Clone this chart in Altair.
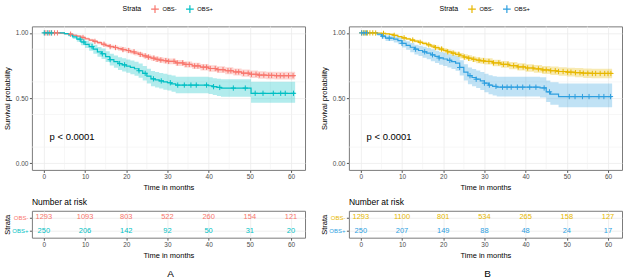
import altair as alt
import pandas as pd

FONT = "Liberation Sans"
STRATA = ["OBS-", "OBS+"]
COLORS_A = ["#F8766D", "#00BFC4"]
COLORS_B = ["#E7B800", "#2E9FDF"]

# ---------------- Panel A ----------------
A_neg_time = [0, 4, 5, 6, 7, 8, 9, 10, 11, 12, 13, 14, 15, 16, 17, 18, 19, 20, 21, 22, 23, 24, 25, 26, 27, 28, 29, 30,
              32, 34, 36, 38, 40, 42, 44, 46, 48, 50, 52, 54, 56, 61]
A_neg_surv = [1.0, 0.998, 0.995, 0.990, 0.982, 0.975, 0.965, 0.955, 0.945, 0.935, 0.925, 0.913, 0.903, 0.895, 0.888,
              0.880, 0.872, 0.865, 0.855, 0.845, 0.835, 0.824, 0.815, 0.806, 0.798, 0.792, 0.787, 0.782,
              0.770, 0.758, 0.747, 0.737, 0.727, 0.718, 0.710, 0.701, 0.691, 0.683, 0.677, 0.674, 0.672, 0.671]
A_neg_lower = [1.0, 0.996, 0.991, 0.985, 0.976, 0.968, 0.957, 0.946, 0.935, 0.924, 0.913, 0.900, 0.889, 0.880, 0.872,
               0.864, 0.855, 0.848, 0.837, 0.827, 0.816, 0.805, 0.795, 0.786, 0.777, 0.771, 0.765, 0.760,
               0.747, 0.735, 0.723, 0.712, 0.702, 0.692, 0.684, 0.674, 0.663, 0.655, 0.648, 0.645, 0.642, 0.641]
A_neg_upper = [1.0, 1.0, 0.999, 0.995, 0.988, 0.982, 0.973, 0.964, 0.955, 0.946, 0.937, 0.926, 0.917, 0.910, 0.904,
               0.896, 0.889, 0.882, 0.873, 0.863, 0.854, 0.843, 0.835, 0.826, 0.819, 0.813, 0.809, 0.804,
               0.793, 0.781, 0.771, 0.762, 0.752, 0.744, 0.736, 0.728, 0.719, 0.711, 0.706, 0.703, 0.702, 0.701]
A_neg_cens = [0.3, 0.8, 1.4, 1.9, 2.6, 3.3, 6.5, 9.5, 12.4, 14.6, 16.1, 17.4, 19.2, 20.6, 21.9, 23.4, 24.6, 25.4, 26.7,
              27.5, 28.4, 29.6, 30.3, 31.6, 32.4, 33.7, 34.5, 35.3, 36.6, 37.4, 38.7, 39.5, 40.4, 41.6, 42.3, 43.5,
              44.7, 45.4, 46.6, 47.3, 48.5, 49.6, 50.4, 51.5, 52.3, 53.4, 54.6, 55.3, 56.5, 57.4, 58.3, 59.4, 60.5]

A_pos_time = [0, 5, 6, 7, 8, 9, 10, 11, 12, 13, 14, 15, 16, 17, 18, 19, 20, 21, 22, 23, 24, 25, 26, 27, 28, 29, 30,
              31, 32, 40, 41, 42, 43, 50.3, 61]
A_pos_surv = [1.0, 0.995, 0.985, 0.970, 0.952, 0.930, 0.912, 0.895, 0.875, 0.855, 0.840, 0.818, 0.795, 0.780, 0.765,
              0.755, 0.745, 0.735, 0.725, 0.710, 0.690, 0.668, 0.648, 0.640, 0.632, 0.625, 0.618,
              0.610, 0.600, 0.595, 0.588, 0.582, 0.577, 0.537, 0.537]
A_pos_lower = [1.0, 0.985, 0.972, 0.953, 0.932, 0.905, 0.884, 0.864, 0.840, 0.818, 0.800, 0.776, 0.750, 0.733, 0.716,
               0.705, 0.694, 0.683, 0.672, 0.656, 0.635, 0.612, 0.591, 0.582, 0.573, 0.565, 0.558,
               0.549, 0.538, 0.532, 0.524, 0.517, 0.511, 0.465, 0.465]
A_pos_upper = [1.0, 1.0, 0.998, 0.987, 0.972, 0.955, 0.940, 0.926, 0.910, 0.892, 0.880, 0.860, 0.840, 0.827, 0.814,
               0.806, 0.797, 0.788, 0.778, 0.765, 0.746, 0.726, 0.707, 0.700, 0.692, 0.686, 0.680,
               0.673, 0.664, 0.660, 0.653, 0.648, 0.644, 0.625, 0.625]
A_pos_cens = [0.1, 1.0, 1.8, 8.8, 9.7, 11.7, 14.2, 16.1, 18.4, 19.6, 23.1, 24.6, 26.6, 28.5, 30.7, 32.5, 34.1, 35.7,
              37.0, 39.5, 41.2, 42.7, 46.0, 48.9, 51.3, 53.2, 55.7, 57.5, 58.6, 60.6]

A_risk_neg = [1293, 1093, 803, 522, 260, 154, 121]
A_risk_pos = [250, 206, 142, 92, 50, 31, 20]

# ---------------- Panel B ----------------
B_neg_time = [0, 3, 5, 6, 7, 8, 9, 10, 11, 12, 13, 14, 15, 16, 17, 18, 19, 20, 21, 22, 23, 24, 25, 26, 27, 28, 29, 30,
              32, 34, 36, 38, 40, 42, 44, 46, 48, 50, 52, 54, 56, 61]
B_neg_surv = [1.0, 0.999, 0.996, 0.993, 0.988, 0.981, 0.972, 0.962, 0.954, 0.945, 0.937, 0.928, 0.919, 0.909, 0.898,
              0.887, 0.876, 0.866, 0.855, 0.845, 0.835, 0.825, 0.815, 0.806, 0.798, 0.791, 0.786, 0.781,
              0.770, 0.759, 0.749, 0.739, 0.731, 0.724, 0.716, 0.710, 0.704, 0.699, 0.695, 0.691, 0.689, 0.688]
B_neg_lower = [1.0, 0.997, 0.993, 0.989, 0.983, 0.975, 0.965, 0.954, 0.945, 0.935, 0.926, 0.916, 0.906, 0.895, 0.883,
               0.871, 0.859, 0.849, 0.837, 0.826, 0.815, 0.804, 0.794, 0.784, 0.776, 0.768, 0.763, 0.757,
               0.745, 0.733, 0.722, 0.711, 0.702, 0.694, 0.685, 0.678, 0.671, 0.665, 0.660, 0.655, 0.653, 0.652]
B_neg_upper = [1.0, 1.0, 0.999, 0.997, 0.993, 0.987, 0.979, 0.970, 0.963, 0.955, 0.948, 0.940, 0.932, 0.923, 0.913,
               0.903, 0.893, 0.883, 0.873, 0.864, 0.855, 0.846, 0.836, 0.828, 0.820, 0.814, 0.809, 0.805,
               0.795, 0.785, 0.776, 0.767, 0.760, 0.754, 0.747, 0.742, 0.737, 0.733, 0.730, 0.727, 0.725, 0.724]
B_neg_cens = [0.2, 0.6, 1.1, 1.6, 2.2, 2.9, 3.6, 5.5, 8.1, 10.5, 12.6, 14.4, 16.5, 18.1, 19.6, 21.1, 22.4, 23.8, 25.1,
              26.2, 27.4, 28.7, 29.8, 31.1, 32.2, 33.5, 34.6, 35.7, 37.1, 38.2, 39.4, 40.5, 41.8, 43.1, 44.2, 45.0,
              46.1, 47.2, 48.0, 49.1, 50.2, 51.0, 52.1, 53.2, 54.0, 55.1, 56.2, 57.0, 58.1, 59.2, 60.0, 60.7]

B_pos_time = [0, 4, 5, 6, 8, 9, 10, 11, 12, 13, 14, 15, 16, 17, 18, 19, 20, 21, 22, 23, 24, 25, 26, 27, 28, 29, 30,
              31, 32, 33, 43.5, 45, 46, 48, 61]
B_pos_surv = [1.0, 0.990, 0.975, 0.960, 0.952, 0.940, 0.920, 0.905, 0.890, 0.875, 0.865, 0.855, 0.845, 0.832, 0.820,
              0.808, 0.800, 0.790, 0.780, 0.768, 0.735, 0.700, 0.672, 0.658, 0.645, 0.632, 0.615,
              0.600, 0.590, 0.584, 0.578, 0.548, 0.530, 0.512, 0.512]
B_pos_lower = [1.0, 0.978, 0.957, 0.937, 0.926, 0.912, 0.888, 0.870, 0.852, 0.834, 0.822, 0.810, 0.798, 0.783, 0.769,
               0.755, 0.746, 0.735, 0.723, 0.709, 0.673, 0.636, 0.606, 0.591, 0.577, 0.563, 0.545,
               0.530, 0.520, 0.512, 0.505, 0.470, 0.450, 0.430, 0.430]
B_pos_upper = [1.0, 1.0, 0.990, 0.980, 0.975, 0.964, 0.948, 0.935, 0.923, 0.910, 0.902, 0.893, 0.885, 0.874, 0.864,
               0.853, 0.846, 0.837, 0.829, 0.820, 0.790, 0.760, 0.735, 0.723, 0.712, 0.700, 0.687,
               0.675, 0.668, 0.664, 0.660, 0.635, 0.622, 0.612, 0.612]
B_pos_cens = [0.2, 0.8, 1.4, 5.3, 6.9, 10.0, 13.3, 15.5, 17.4, 19.0, 21.6, 24.0, 26.5, 28.0, 30.0, 31.2, 32.8, 34.4,
              35.5, 36.5, 38.0, 39.3, 41.0, 42.5, 44.5, 45.8, 50.6, 52.0, 53.8, 55.4, 57.8, 59.0, 60.6]

B_risk_neg = [1293, 1100, 801, 534, 265, 158, 127]
B_risk_pos = [250, 207, 149, 88, 48, 24, 17]

risk_times = [0, 10, 20, 30, 40, 50, 60]
x_ticks = [0, 10, 20, 30, 40, 50, 60]
y_ticks = [0.0, 0.25, 0.5, 0.75, 1.0]
minor_x = [5, 15, 25, 35, 45, 55]
minor_y = [0.125, 0.375, 0.625, 0.875]
pval_text = "p < 0.0001"
panel_labels = ["A", "B"]

X_DOMAIN = [-2.9, 63.4]
Y_DOMAIN = [-0.05, 1.05]
PLUS = "M-1,0L1,0M0,-1L0,1"


def curve_df(time, surv, lower, upper, strata):
    return pd.DataFrame({"time": time, "surv": surv, "lower": lower, "upper": upper, "strata": strata})


def cens_df(cens, time, surv, strata):
    ys = []
    for c in cens:
        s = surv[0]
        for t, v in zip(time, surv):
            if t <= c:
                s = v
        ys.append(s)
    return pd.DataFrame({"time": cens, "surv": ys, "strata": strata})


X_AXIS = alt.Axis(values=x_ticks, title="Time in months")
Y_AXIS = alt.Axis(values=y_ticks, format=".2f", title="Survival probability", titleX=-20)


def km_panel(curves, cens, colors, legend_x):
    xs = alt.Scale(domain=X_DOMAIN, nice=False, zero=False)
    ys = alt.Scale(domain=Y_DOMAIN, nice=False, zero=False)
    cscale = alt.Scale(domain=STRATA, range=colors)
    legend = alt.Legend(
        title="Strata", orient="none", legendX=legend_x, legendY=-22, direction="horizontal",
        titleOrient="left", titleFontSize=7, titleFontWeight="normal", titleFont=FONT, titleColor="#000",
        labelFontSize=5.8, labelFont=FONT, labelColor="#000", symbolType=PLUS, symbolSize=60,
        symbolStrokeWidth=1.2, columnPadding=6, labelOffset=3, titlePadding=9, padding=0,
        symbolOpacity=1,
    )
    color = alt.Color("strata:N", scale=cscale, legend=legend)

    gx = alt.Chart(pd.DataFrame({"v": minor_x})).mark_rule(color="#F2F2F2", strokeWidth=0.6).encode(
        x=alt.X("v:Q", scale=xs, axis=X_AXIS))
    gy = alt.Chart(pd.DataFrame({"v": minor_y})).mark_rule(color="#F2F2F2", strokeWidth=0.6).encode(
        y=alt.Y("v:Q", scale=ys, axis=Y_AXIS))
    band = alt.Chart(curves).mark_area(interpolate="step-after", opacity=0.3).encode(
        x=alt.X("time:Q", scale=xs, axis=X_AXIS),
        y=alt.Y("lower:Q", scale=ys, axis=Y_AXIS),
        y2="upper:Q",
        color=color,
    )
    line = alt.Chart(curves).mark_line(interpolate="step-after", strokeWidth=1.2).encode(
        x=alt.X("time:Q", scale=xs, axis=X_AXIS), y=alt.Y("surv:Q", scale=ys, axis=Y_AXIS), color=color)
    pts = alt.Chart(cens).mark_point(shape=PLUS, size=28, filled=False, strokeWidth=1, opacity=1).encode(
        x=alt.X("time:Q", scale=xs, axis=X_AXIS), y=alt.Y("surv:Q", scale=ys, axis=Y_AXIS), color=color)
    ptxt = alt.Chart(pd.DataFrame({"t": [pval_text]})).mark_text(
        align="left", baseline="middle", fontSize=9.5, font=FONT, color="#000").encode(
        x=alt.datum(1.4), y=alt.datum(0.2), text="t:N")
    return alt.layer(gx, gy, band, line, pts, ptxt).properties(width=274, height=144)


def risk_panel(neg, pos, colors):
    df = pd.DataFrame({
        "time": risk_times + risk_times,
        "n": neg + pos,
        "strata": ["OBS-"] * len(neg) + ["OBS+"] * len(pos),
    })
    xs = alt.Scale(domain=X_DOMAIN, nice=False, zero=False)
    label_color = {"condition": {"test": "datum.value == 'OBS-'", "value": colors[0]}, "value": colors[1]}
    return alt.Chart(df).mark_text(fontSize=7.5, font=FONT).encode(
        x=alt.X("time:Q", scale=xs, axis=alt.Axis(values=x_ticks, title="Time in months")),
        y=alt.Y("strata:N", scale=alt.Scale(domain=STRATA, type="point", padding=0.5),
                axis=alt.Axis(title="Strata", labelColor=label_color, labelFontSize=6, grid=True,
                              titleX=-20)),
        text="n:Q",
        color=alt.Color("strata:N", scale=alt.Scale(domain=STRATA, range=colors), legend=None),
    ).properties(width=274, height=27,
                 title=alt.Title("Number at risk", anchor="start", frame="group", fontSize=8.5,
                                 fontWeight="normal", font=FONT, color="#000", offset=4))


def column(curves, cens, neg, pos, colors, label):
    km = km_panel(curves, cens, colors, 91)
    rk = risk_panel(neg, pos, colors)
    return alt.vconcat(km, rk, spacing=6,
                       title=alt.Title(label, orient="bottom", anchor="middle", fontSize=10,
                                       fontWeight="normal", font=FONT, color="#000", dx=16, offset=10)
                       ).resolve_scale(color="independent")


curvesA = pd.concat([curve_df(A_neg_time, A_neg_surv, A_neg_lower, A_neg_upper, "OBS-"),
                     curve_df(A_pos_time, A_pos_surv, A_pos_lower, A_pos_upper, "OBS+")])
censA = pd.concat([cens_df(A_neg_cens, A_neg_time, A_neg_surv, "OBS-"),
                   cens_df(A_pos_cens, A_pos_time, A_pos_surv, "OBS+")])
curvesB = pd.concat([curve_df(B_neg_time, B_neg_surv, B_neg_lower, B_neg_upper, "OBS-"),
                     curve_df(B_pos_time, B_pos_surv, B_pos_lower, B_pos_upper, "OBS+")])
censB = pd.concat([cens_df(B_neg_cens, B_neg_time, B_neg_surv, "OBS-"),
                   cens_df(B_pos_cens, B_pos_time, B_pos_surv, "OBS+")])

colA = column(curvesA, censA, A_risk_neg, A_risk_pos, COLORS_A, panel_labels[0])
colB = column(curvesB, censB, B_risk_neg, B_risk_pos, COLORS_B, panel_labels[1])

chart = alt.hconcat(colA, colB, spacing=14).resolve_scale(color="independent").properties(
    padding={"left": 3, "top": 3, "right": 1, "bottom": 1}, background="white"
).configure_view(stroke="#7a7a7a", strokeWidth=1).configure_axis(
    labelFont=FONT, titleFont=FONT, labelFontSize=6.5, titleFontSize=7.5, titleFontWeight="normal",
    labelColor="#4D4D4D", titleColor="#000", tickColor="#555", tickSize=2.5, domain=False,
    gridColor="#EBEBEB", gridWidth=0.8, labelPadding=1.5, titlePadding=3,
)

chart.save("out.html", embed_options={"renderer": "svg", "actions": False})
